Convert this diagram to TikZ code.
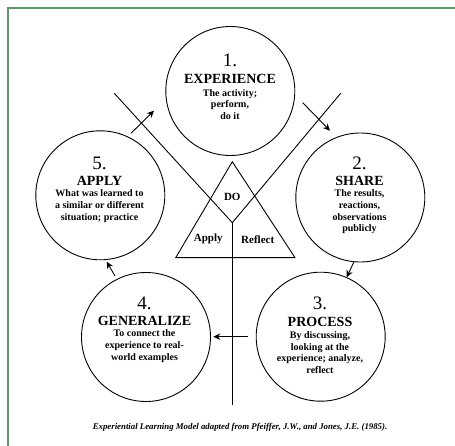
\documentclass[tikz,border=0pt]{standalone}
\usepackage{fontspec}
\setmainfont{Liberation Serif}
\usetikzlibrary{arrows.meta, positioning, calc}

\definecolor{framegreen}{RGB}{96,150,108}

\tikzset{
  stage/.style={circle, draw, minimum size=129pt, inner sep=0pt, line width=0.9pt},
  num/.style={font=\fontsize{19}{19}\selectfont, inner sep=0pt},
  stagetitle/.style={font=\fontsize{14}{14}\selectfont\bfseries, inner sep=0pt},
  body/.style={font=\fontsize{10}{11.6}\selectfont\bfseries, align=center, inner sep=0pt},
  corner/.style={font=\fontsize{11}{11}\selectfont\bfseries, inner sep=0pt},
  flow/.style={-{Stealth[length=7pt,width=6.5pt]}, line width=0.9pt}
}

\begin{document}
\begin{tikzpicture}[x=1pt, y=-1pt, line width=0.9pt]
        \useasboundingbox (0,0) rectangle (455,446);

        % Frame
        \draw[framegreen, line width=1.2pt] (8,446) -- (8,8) -- (455,8);

        % Stages
        \node[stage] (exp) at (230.3,91) {};
        \node[num] (n1) at (230,60) {1.};
        \node[stagetitle] (t1) at (230,79) {EXPERIENCE};
        \node[body] (b1) at (230,104.3) {The activity;\\perform,\\do it};

        \node[stage] (share) at (360.3,197.5) {};
        \node[num] (n2) at (359.5,163.3) {2.};
        \node[stagetitle] (t2) at (359.5,180.7) {SHARE};
        \node[body] (b2) at (359.5,212) {The results,\\reactions,\\observations\\publicly};

        \node[stage] (process) at (320.7,336.7) {};
        \node[num] (n3) at (320,303.3) {3.};
        \node[stagetitle] (t3) at (320,321.7) {PROCESS};
        \node[body] (b3) at (320,352.5) {By discussing,\\looking at the\\experience; analyze,\\reflect};

        \node[stage] (general) at (146,337) {};
        \node[num] (n4) at (144.5,303.3) {4.};
        \node[stagetitle] (t4) at (144.5,320.7) {GENERALIZE};
        \node[body] (b4) at (144.5,346) {To connect the\\experience to real-\\world examples};

        \node[stage] (apply) at (100.3,195.3) {};
        \node[num] (n5) at (99.5,163.3) {5.};
        \node[stagetitle] (t5) at (99.5,180.7) {APPLY};
        \node[body] (b5) at (99.5,206) {What was learned to\\a similar or different\\situation; practice};

        % Triangle and cross lines
        \coordinate (apex) at (232.3,161.7);
        \coordinate (bl) at (175.7,257.7);
        \coordinate (br) at (295,257.7);
        \coordinate (vtx) at (232.3,222.7);
        \coordinate (vl) at (114.3,93.3);
        \coordinate (vr) at (340.7,93.3);
        \coordinate (stem) at (232.3,405);
        \draw (apex) -- (bl) -- (br) -- cycle;
        \draw (vl) -- (vtx) -- (vr);
        \draw (vtx) -- (stem);

        \node[corner] (do) at (232.3,196.7) {DO};
        \node[corner] (ap) at (208.3,239.3) {Apply};
        \node[corner] (re) at (257.7,239.3) {Reflect};

        % Arrows
        \coordinate (a5s) at (131,133.3);
        \coordinate (a5e) at (154,110.7);
        \coordinate (a1s) at (302.7,102.7);
        \coordinate (a1e) at (330,130.7);
        \coordinate (a2s) at (354,261.7);
        \coordinate (a2e) at (346.7,277.3);
        \coordinate (a3s) at (248.3,336.7);
        \coordinate (a3e) at (213.3,336.7);
        \coordinate (a4s) at (115,276);
        \coordinate (a4e) at (106.7,261.7);
        \draw[flow] (a5s) -- (a5e);
        \draw[flow] (a1s) -- (a1e);
        \draw[flow] (a2s) -- (a2e);
        \draw[flow] (a3s) -- (a3e);
        \draw[flow] (a4s) -- (a4e);

        % Caption
        \node[font=\fontsize{8.8}{9}\selectfont\bfseries\itshape, inner sep=0pt] (cap) at (240,427)
            {Experiential Learning Model adapted from Pfeiffer, J.W., and Jones, J.E. (1985).};
\end{tikzpicture}
\end{document}
